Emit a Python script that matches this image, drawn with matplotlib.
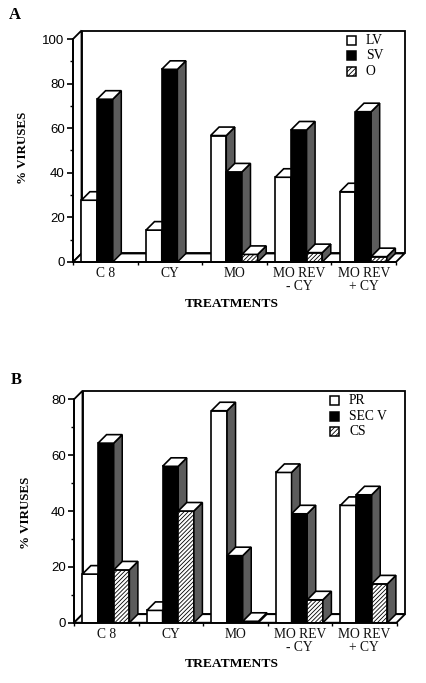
import matplotlib
matplotlib.use('Agg')
import matplotlib.pyplot as plt
from matplotlib.patches import Polygon, Rectangle

W = 426
H = 683

cats_a = ['C 8', 'CY', 'MO', 'MO REV\n- CY', 'MO REV\n+ CY']
lv = [27.7, 14.3, 56.7, 38, 31.5]
sv = [73, 86.4, 40.4, 59.2, 67.4]
oth = [0, 0, 3.4, 4.2, 2.4]
names_a = ['LV', 'SV', 'O']
yticks_a = [0, 20, 40, 60, 80, 100]
yminor_a = [10, 30, 50, 70, 90]

cats_b = ['C 8', 'CY', 'MO', 'MO REV\n- CY', 'MO REV\n+ CY']
pr = [17.4, 4.4, 75.9, 53.8, 42]
sec = [64.3, 56, 24, 39, 45.8]
cs = [18.9, 40, 0.5, 8.2, 13.9]
names_b = ['PR', 'SEC V', 'CS']
yticks_b = [0, 20, 40, 60, 80]
yminor_b = [10, 30, 50, 70]

SERIF = 'Liberation Serif'
SANS = 'Liberation Sans'
DEPTH = 8.5      # px
SIDE = '#5c5c5c'
plt.rcParams['hatch.linewidth'] = 0.6


def panel(left, right, top, bottom, cats, series, names, yticks, yminor, letter, letter_xy,
          ylab_xy, xlab_xy, leg_x, leg_ys, text_x):
    ax = plt.gcf().add_axes([left / W, 1 - bottom / H, (right - left) / W, (bottom - top) / H])
    ymax = yticks[-1]
    ax.set_xlim(0, len(cats))
    ax.set_ylim(0, ymax)
    ax.patch.set_visible(False)
    dx = DEPTH / (right - left) * len(cats)
    dy = DEPTH / (bottom - top) * ymax
    n = len(cats)

    # walls and floor
    ax.add_patch(Rectangle((dx, dy), n, ymax, fc='white', ec='black', lw=1.3, clip_on=False, zorder=1))
    ax.add_patch(Polygon([(0, 0), (dx, dy), (dx, ymax + dy), (0, ymax)], closed=True, fc='white', ec='black',
                         lw=1.3, clip_on=False, zorder=1))
    ax.add_patch(Polygon([(0, 0), (n, 0), (n + dx, dy), (dx, dy)], closed=True, fc='white', ec='black',
                         lw=1.3, clip_on=False, zorder=1))

    bw = 0.243
    z = 3
    for g in range(n):
        for s, vals in enumerate(series):
            v = vals[g]
            if v <= 0:
                continue
            x0 = g + 0.13 + s * bw
            if s == 2:
                ax.bar(x0, v, bw, align='edge', fc='white', ec='black', lw=1.2, hatch='////////', zorder=z)
            else:
                ax.bar(x0, v, bw, align='edge', fc='white' if s == 0 else 'black', ec='black', lw=1.2, zorder=z)
            ax.add_patch(Polygon([(x0 + bw, 0), (x0 + bw + dx, dy), (x0 + bw + dx, v + dy), (x0 + bw, v)],
                                 closed=True, fc=SIDE, ec='black', lw=1.1, clip_on=False, zorder=z))
            ax.add_patch(Polygon([(x0, v), (x0 + dx, v + dy), (x0 + bw + dx, v + dy), (x0 + bw, v)],
                                 closed=True, fc='white', ec='black', lw=1.2, clip_on=False, zorder=z))
            z += 1

    for sp in ['top', 'right']:
        ax.spines[sp].set_visible(False)
    ax.spines['left'].set_linewidth(1.3)
    ax.spines['bottom'].set_linewidth(1.3)
    ax.spines['bottom'].set_zorder(50)
    ax.set_yticks(yticks)
    ax.set_yticks(yminor, minor=True)
    ax.set_yticklabels([str(t) for t in yticks], fontfamily=SANS, fontsize=9.5, fontweight='medium')
    ax.tick_params(axis='y', which='major', length=4.5, width=1.2, pad=1.5)
    ax.tick_params(axis='y', which='minor', length=2, width=1)
    ax.set_xticks(range(n + 1))
    ax.tick_params(axis='x', which='major', length=2.5, width=1, labelbottom=False)
    for g, c in enumerate(cats):
        ax.text(g + 0.5, -0.024 * ymax, c, ha='center', va='top', fontfamily=SERIF, fontsize=9.8,
                linespacing=0.98, color='#111111')

    fig = plt.gcf()
    fig.text(letter_xy[0] / W, 1 - letter_xy[1] / H, letter, fontfamily=SERIF, fontweight='bold', fontsize=12,
             ha='center', va='center')
    fig.text(ylab_xy[0] / W, 1 - ylab_xy[1] / H, '% VIRUSES', fontfamily=SERIF, fontweight='bold', fontsize=9.4,
             rotation=90, ha='center', va='center')
    fig.text(xlab_xy[0] / W, 1 - xlab_xy[1] / H, 'TREATMENTS', fontfamily=SERIF, fontweight='bold', fontsize=9.7,
             ha='center', va='center')

    # legend
    for i, name in enumerate(names):
        fc = 'black' if i == 1 else 'white'
        fig.patches.append(Rectangle((leg_x / W, 1 - (leg_ys[i] + 4.5) / H), 9.5 / W, 9 / H, transform=fig.transFigure,
                                     fc=fc, ec='black', lw=1.1, hatch='///////' if i == 2 else None, zorder=80))
        fig.text(text_x / W, 1 - leg_ys[i] / H, name, fontfamily=SERIF, fontsize=9.8, ha='left', va='center', zorder=80)
    return ax


fig = plt.figure(figsize=(W / 100, H / 100), dpi=100, facecolor='white')
panel(73, 396, 39, 262, cats_a, [lv, sv, oth], names_a, yticks_a, yminor_a, 'A', (15, 15), (23, 148), (232, 304),
      346.5, [40.5, 55.5, 71.5], 366)
panel(74, 396.5, 399.3, 622.7, cats_b, [pr, sec, cs], names_b, yticks_b, yminor_b, 'B', (16, 380), (26, 513), (232, 664),
      329.5, [400.5, 416, 431.5], 349)
fig.savefig('out.png', dpi=100)
